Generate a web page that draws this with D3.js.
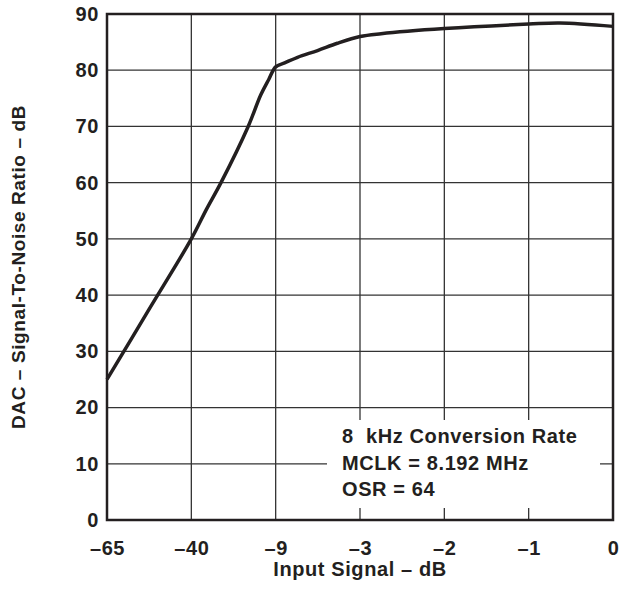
<!DOCTYPE html>
<meta charset="utf-8">
<style>
  body { margin: 0; background: #fff; }
  text { font-family: "Liberation Sans", Arial, sans-serif; font-weight: bold; fill: #231f20; letter-spacing: 0.6px; }
</style>
<body>
<div id="chart"></div>
<script src="https://d3js.org/d3.v7.min.js"></script>
<script>
// tick values on the (non-uniform) input axis
var xTicks = [-65, -40, -9, -3, -2, -1, 0];
var xTickLabels = ["\u201365", "\u201340", "\u20139", "\u20133", "\u20132", "\u20131", "0"];
var yTicks = [0, 10, 20, 30, 40, 50, 60, 70, 80, 90];

// curve
var inputDb = [-65, -52.5, -40, -34.5, -29.1, -19.1, -14.5, -11.5, -9, -8.36, -7.44, -6.02, -4.61, -3, -2.75, -2, -1, -0.63, 0];
var snrDb   = [25, 37.5, 50, 55.2, 60, 70, 75.6, 78.4, 80.6, 81.3, 82.3, 83.5, 84.8, 86.0, 86.5, 87.4, 88.2, 88.4, 87.8];

var legendLines = ["8  kHz Conversion Rate", "MCLK = 8.192 MHz", "OSR = 64"];

var margin = {top: 14, right: 7, bottom: 69, left: 107};
var width = 620 - margin.left - margin.right,
    height = 589 - margin.top - margin.bottom;

var svg = d3.select("#chart").append("svg")
    .attr("width", 620)
    .attr("height", 589);

var g = svg.append("g")
    .attr("transform", "translate(" + margin.left + "," + margin.top + ")");

// piecewise axis: each tick equally spaced
var x = d3.scaleLinear()
    .domain(xTicks)
    .range(xTicks.map(function(d, i) { return i * width / (xTicks.length - 1); }));

var y = d3.scaleLinear().domain([0, 90]).range([height, 0]);

// grid
g.selectAll(".vgrid")
    .data(xTicks.slice(1, -1))
  .enter().append("line")
    .attr("x1", x).attr("x2", x)
    .attr("y1", 0).attr("y2", height)
    .attr("stroke", "#333").attr("stroke-width", 1.3);

g.selectAll(".hgrid")
    .data(yTicks.slice(1, -1))
  .enter().append("line")
    .attr("x1", 0).attr("x2", width)
    .attr("y1", y).attr("y2", y)
    .attr("stroke", "#333").attr("stroke-width", 1.3);

// legend box hides the grid under it
g.append("rect")
    .attr("x", 220).attr("y", 406)
    .attr("width", 273).attr("height", 88)
    .attr("fill", "#fff");

g.selectAll(".legend")
    .data(legendLines)
  .enter().append("text")
    .attr("x", 235)
    .attr("y", function(d, i) { return 429 + i * 26.5; })
    .style("font-size", "20px")
    .style("white-space", "pre")
    .text(function(d) { return d; });

// frame
g.append("rect")
    .attr("width", width).attr("height", height)
    .attr("fill", "none")
    .attr("stroke", "#231f20").attr("stroke-width", 2.5);

// curve
var line = d3.line()
    .x(function(d, i) { return x(inputDb[i]); })
    .y(function(d) { return y(d); })
    .curve(d3.curveCatmullRom.alpha(0.5));

g.append("path")
    .datum(snrDb)
    .attr("d", line)
    .attr("fill", "none")
    .attr("stroke", "#231f20")
    .attr("stroke-width", 3.5)
    .attr("stroke-linejoin", "round");

// axes (labels only)
var xAxis = d3.axisBottom(x)
    .tickValues(xTicks)
    .tickFormat(function(d, i) { return xTickLabels[i]; })
    .tickSize(0).tickPadding(21);

g.append("g")
    .attr("transform", "translate(0," + height + ")")
    .call(xAxis)
    .call(function(s) { s.select(".domain").remove(); })
    .selectAll("text")
    .style("font-size", "20px")
    .attr("fill", "#231f20");

var yAxis = d3.axisLeft(y)
    .tickValues(yTicks)
    .tickSize(0).tickPadding(8);

g.append("g")
    .call(yAxis)
    .call(function(s) { s.select(".domain").remove(); })
    .selectAll("text")
    .style("font-size", "20px")
    .attr("fill", "#231f20");

// axis titles
svg.append("text")
    .attr("x", margin.left + width / 2)
    .attr("y", 576)
    .attr("text-anchor", "middle")
    .style("font-size", "20px")
    .text("Input Signal \u2013 dB");

svg.append("text")
    .attr("transform", "translate(25," + (margin.top + height / 2) + ") rotate(-90)")
    .attr("text-anchor", "middle")
    .style("font-size", "19px")
    .text("DAC \u2013 Signal-To-Noise Ratio \u2013 dB");
</script>
</body>
